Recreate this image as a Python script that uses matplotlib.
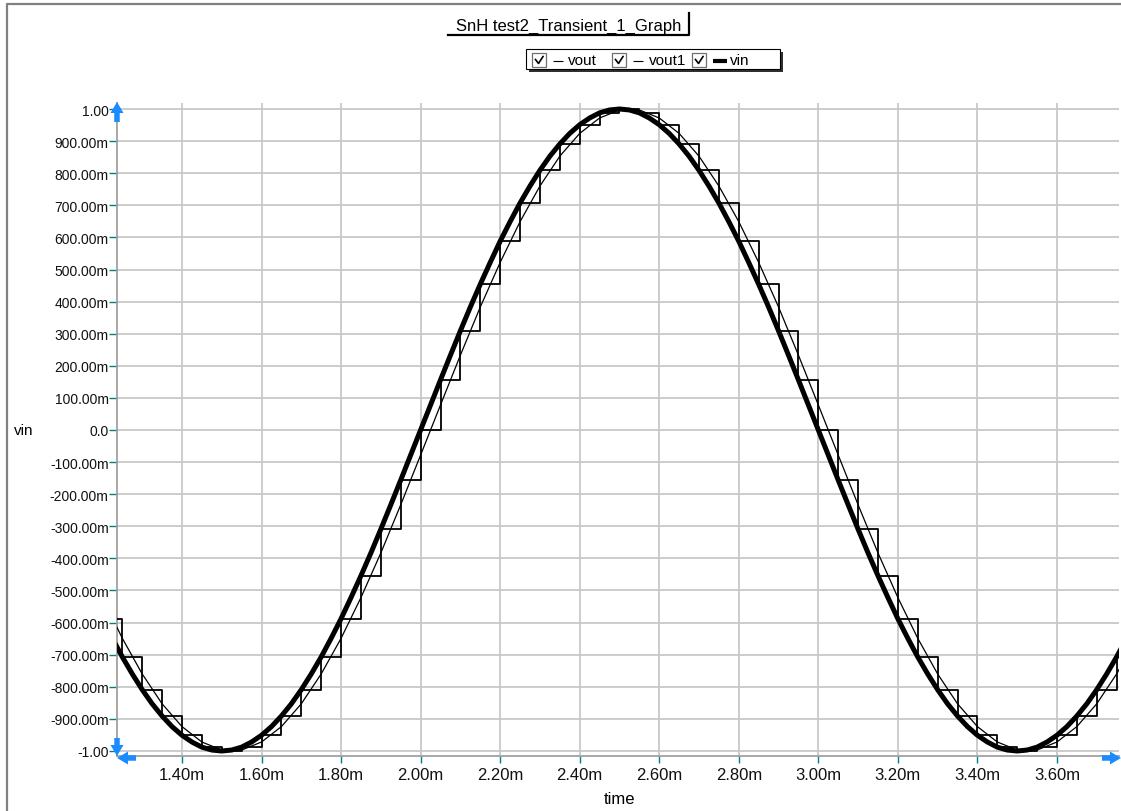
import matplotlib
matplotlib.use("Agg")
import matplotlib.pyplot as plt
from matplotlib.patches import Rectangle, FancyArrow

plt.rcParams['font.family'] = ['Liberation Sans', 'DejaVu Sans']

# sample instants (ms), 0.05 ms apart
t_ms = [1.20, 1.25, 1.30, 1.35, 1.40, 1.45, 1.50, 1.55, 1.60, 1.65,
        1.70, 1.75, 1.80, 1.85, 1.90, 1.95, 2.00, 2.05, 2.10, 2.15,
        2.20, 2.25, 2.30, 2.35, 2.40, 2.45, 2.50, 2.55, 2.60, 2.65,
        2.70, 2.75, 2.80, 2.85, 2.90, 2.95, 3.00, 3.05, 3.10, 3.15,
        3.20, 3.25, 3.30, 3.35, 3.40, 3.45, 3.50, 3.55, 3.60, 3.65,
        3.70, 3.75, 3.80]

# input sine read at 0.025 ms steps
t_vin = [1.200, 1.225, 1.250, 1.275, 1.300, 1.325, 1.350, 1.375, 1.400, 1.425,
         1.450, 1.475, 1.500, 1.525, 1.550, 1.575, 1.600, 1.625, 1.650, 1.675,
         1.700, 1.725, 1.750, 1.775, 1.800, 1.825, 1.850, 1.875, 1.900, 1.925,
         1.950, 1.975, 2.000, 2.025, 2.050, 2.075, 2.100, 2.125, 2.150, 2.175,
         2.200, 2.225, 2.250, 2.275, 2.300, 2.325, 2.350, 2.375, 2.400, 2.425,
         2.450, 2.475, 2.500, 2.525, 2.550, 2.575, 2.600, 2.625, 2.650, 2.675,
         2.700, 2.725, 2.750, 2.775, 2.800, 2.825, 2.850, 2.875, 2.900, 2.925,
         2.950, 2.975, 3.000, 3.025, 3.050, 3.075, 3.100, 3.125, 3.150, 3.175,
         3.200, 3.225, 3.250, 3.275, 3.300, 3.325, 3.350, 3.375, 3.400, 3.425,
         3.450, 3.475, 3.500, 3.525, 3.550, 3.575, 3.600, 3.625, 3.650, 3.675,
         3.700, 3.725, 3.750, 3.775, 3.800]
vin = [-0.588, -0.649, -0.707, -0.760, -0.809, -0.853, -0.891, -0.924, -0.951, -0.972,
       -0.988, -0.997, -1.000, -0.997, -0.988, -0.972, -0.951, -0.924, -0.891, -0.853,
       -0.809, -0.760, -0.707, -0.649, -0.588, -0.522, -0.454, -0.383, -0.309, -0.233,
       -0.156, -0.078, 0.000, 0.078, 0.156, 0.233, 0.309, 0.383, 0.454, 0.522,
       0.588, 0.649, 0.707, 0.760, 0.809, 0.853, 0.891, 0.924, 0.951, 0.972,
       0.988, 0.997, 1.000, 0.997, 0.988, 0.972, 0.951, 0.924, 0.891, 0.853,
       0.809, 0.760, 0.707, 0.649, 0.588, 0.522, 0.454, 0.383, 0.309, 0.233,
       0.156, 0.078, 0.000, -0.078, -0.156, -0.233, -0.309, -0.383, -0.454, -0.522,
       -0.588, -0.649, -0.707, -0.760, -0.809, -0.853, -0.891, -0.924, -0.951, -0.972,
       -0.988, -0.997, -1.000, -0.997, -0.988, -0.972, -0.951, -0.924, -0.891, -0.853,
       -0.809, -0.760, -0.707, -0.649, -0.588]

# sample & hold output (held value per interval)
vout = [-0.588, -0.707, -0.809, -0.891, -0.951, -0.988, -1.000, -0.988, -0.951, -0.891,
        -0.809, -0.707, -0.588, -0.454, -0.309, -0.156, 0.000, 0.156, 0.309, 0.454,
        0.588, 0.707, 0.809, 0.891, 0.951, 0.988, 1.000, 0.988, 0.951, 0.891,
        0.809, 0.707, 0.588, 0.454, 0.309, 0.156, 0.000, -0.156, -0.309, -0.454,
        -0.588, -0.707, -0.809, -0.891, -0.951, -0.988, -1.000, -0.988, -0.951, -0.891,
        -0.809, -0.707, -0.588]

# smoothed output, lags vin by about half a sample
vout1 = [-0.522, -0.649, -0.760, -0.853, -0.924, -0.972, -0.997, -0.997, -0.972, -0.924,
         -0.853, -0.760, -0.649, -0.522, -0.383, -0.233, -0.078, 0.078, 0.233, 0.383,
         0.522, 0.649, 0.760, 0.853, 0.924, 0.972, 0.997, 0.997, 0.972, 0.924,
         0.853, 0.760, 0.649, 0.522, 0.383, 0.233, 0.078, -0.078, -0.233, -0.383,
         -0.522, -0.649, -0.760, -0.853, -0.924, -0.972, -0.997, -0.997, -0.972, -0.924,
         -0.853, -0.760, -0.649]

x_ticks = [1.40, 1.60, 1.80, 2.00, 2.20, 2.40, 2.60, 2.80, 3.00, 3.20, 3.40, 3.60]
x_labels = ["1.40m", "1.60m", "1.80m", "2.00m", "2.20m", "2.40m",
            "2.60m", "2.80m", "3.00m", "3.20m", "3.40m", "3.60m"]
y_ticks = [1.0, 0.9, 0.8, 0.7, 0.6, 0.5, 0.4, 0.3, 0.2, 0.1, 0.0,
           -0.1, -0.2, -0.3, -0.4, -0.5, -0.6, -0.7, -0.8, -0.9, -1.0]
y_labels = ["1.00", "900.00m", "800.00m", "700.00m", "600.00m", "500.00m",
            "400.00m", "300.00m", "200.00m", "100.00m", "0.0",
            "-100.00m", "-200.00m", "-300.00m", "-400.00m", "-500.00m",
            "-600.00m", "-700.00m", "-800.00m", "-900.00m", "-1.00"]

W, H = 1121, 812
fig = plt.figure(figsize=(W / 100, H / 100), dpi=100)
fig.patch.set_facecolor("white")

# main plot area (pixel box: x 117..1119, y 104..757)
ax = fig.add_axes([117 / W, (H - 757) / H, 1002 / W, (757 - 104) / H])
ax.set_xlim(1.2366, 3.756)
ax.set_ylim(-1.0156, 1.0187)

ax.set_xticks(x_ticks)
ax.set_xticklabels(x_labels, fontsize=12)
ax.set_yticks(y_ticks)
ax.set_yticklabels(y_labels, fontsize=10)
ax.tick_params(axis="both", colors="#008080", labelcolor="#111111")
ax.tick_params(axis="y", length=6, width=1, pad=0)
ax.tick_params(axis="x", length=5, width=1, pad=3)
ax.grid(True, color="#c8c8c8", linewidth=1.3)
ax.set_axisbelow(True)
for side in ("top", "right"):
    ax.spines[side].set_visible(False)
for side in ("left", "bottom"):
    ax.spines[side].set_color("#a0a0a0")
    ax.spines[side].set_linewidth(1.3)

ax.plot(t_ms, vout1, color="black", linewidth=0.9, zorder=3)
ax.plot(t_ms, vout, color="black", linewidth=1.3, drawstyle="steps-post", zorder=3)
ax.plot(t_vin, vin, color="black", linewidth=3.6, zorder=4)

# overlay in pixel coordinates for the frame, title, legend, arrows
ov = fig.add_axes([0, 0, 1, 1], zorder=10)
ov.set_xlim(0, W)
ov.set_ylim(H, 0)
ov.axis("off")
ov.patch.set_alpha(0)

ov.plot([7, 7, W], [H, 5, 5], color="#808080", linewidth=1.6, solid_capstyle="butt")

# title button
ov.text(569, 26, "SnH test2_Transient_1_Graph", fontsize=12, ha="center", va="center")
ov.plot([448, 689, 689], [36, 36, 14], color="black", linewidth=1.6)

# legend box
ov.add_patch(Rectangle((529, 53), 254, 20, facecolor="#303030", edgecolor="none"))
ov.add_patch(Rectangle((526, 50), 254, 20, facecolor="white", edgecolor="black", linewidth=0.8))
entries = [(532, 553, 563, 568, "vout", 0.8),
           (612, 633, 643, 649, "vout1", 0.8),
           (692, 713, 727, 730, "vin", 3.0)]
for bx, d0, d1, tx, name, lw in entries:
    ov.add_patch(Rectangle((bx, 54), 14, 14, facecolor="white", edgecolor="#707070", linewidth=0.9))
    ov.plot([bx + 3.5, bx + 6.5, bx + 11], [60.5, 64.5, 57.5], color="black", linewidth=1.2)
    ov.plot([d0, d1], [61.5, 61.5], color="black", linewidth=lw, solid_capstyle="butt")
    ov.text(tx, 61, name, fontsize=11, ha="left", va="center")

# axis titles
ov.text(24, 431, "vin", fontsize=11, ha="center", va="center")
ov.text(619, 800, "time", fontsize=12, ha="center", va="center")

# blue axis arrows
blue = "#1a8cff"
arrow_kw = dict(width=5.5, head_width=13, head_length=11, length_includes_head=True,
                color=blue, linewidth=0)
ov.add_patch(FancyArrow(117, 123, 0, -20, **arrow_kw))
ov.add_patch(FancyArrow(117, 739, 0, 18, **arrow_kw))
ov.add_patch(FancyArrow(136, 759, -19, 0, **arrow_kw))
ov.add_patch(FancyArrow(1102, 759, 19, 0, **arrow_kw))

fig.savefig("out.png", dpi=100)
